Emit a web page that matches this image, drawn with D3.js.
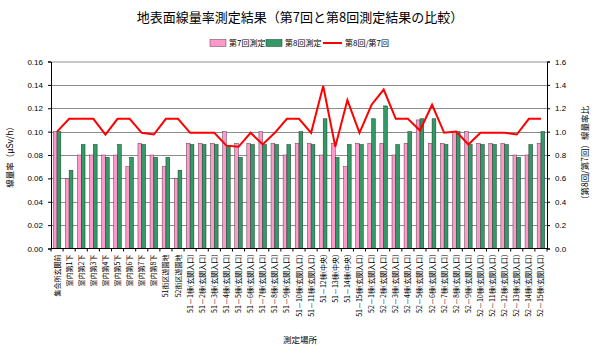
<!DOCTYPE html>
<html>
<head>
<meta charset="utf-8">
<script src="https://cdn.jsdelivr.net/npm/d3@7"></script>
<style>
  body { margin: 0; background: #fff; }
  text { font-family: "Noto Sans CJK JP", "Noto Sans", sans-serif; }
</style>
</head>
<body>
<div id="chart"></div>
<script>
// categories (measurement locations)
const places = [
    "集会所玄関前", "室内第1下", "室内第2下", "室内第3下", "室内第4下", "室内第5下",
    "室内第6下", "室内第7下", "室内第8下", "51街区遊園地", "52街区遊園地",
    "51－1棟(玄関入口)", "51－2棟(玄関入口)", "51－3棟(玄関入口)", "51－4棟(玄関入口)",
    "51－5棟(玄関入口)", "51－6棟(玄関入口)", "51－7棟(玄関入口)", "51－8棟(玄関入口)",
    "51－9棟(玄関入口)", "51－10棟(玄関入口)", "51－11棟(玄関入口)", "51－12棟(中央)",
    "51－13棟(中央)", "51－14棟(中央)", "51－15棟(玄関入口)",
    "52－1棟(玄関入口)", "52－2棟(玄関入口)", "52－3棟(玄関入口)", "52－4棟(玄関入口)",
    "52－5棟(玄関入口)", "52－6棟(玄関入口)", "52－7棟(玄関入口)", "52－8棟(玄関入口)",
    "52－9棟(玄関入口)", "52－10棟(玄関入口)", "52－11棟(玄関入口)", "52－12棟(玄関入口)",
    "52－13棟(玄関入口)", "52－14棟(玄関入口)", "52－15棟(玄関入口)"
];

// 第7回測定 (μSv/h)
const round7 = [
    0.10, 0.06, 0.08, 0.08, 0.08, 0.08, 0.07, 0.09, 0.08, 0.07, 0.06,
    0.09, 0.09, 0.09, 0.10, 0.09, 0.09, 0.10, 0.09, 0.08, 0.09, 0.09, 0.08,
    0.09, 0.07, 0.09, 0.09, 0.09, 0.08, 0.09, 0.11, 0.09, 0.09, 0.10,
    0.10, 0.09, 0.09, 0.09, 0.08, 0.08, 0.09
];

// 第8回測定 (μSv/h)
const round8 = [
    0.10, 0.067, 0.089, 0.089, 0.078, 0.089, 0.078, 0.089, 0.078, 0.078, 0.067,
    0.089, 0.089, 0.089, 0.088, 0.078, 0.089, 0.089, 0.089, 0.089, 0.10, 0.089, 0.111,
    0.078, 0.089, 0.089, 0.111, 0.122, 0.089, 0.10, 0.111, 0.111, 0.089, 0.10,
    0.089, 0.089, 0.089, 0.089, 0.078, 0.089, 0.10
];

// 第8回/第7回 ratio
const ratio = [
    1.00, 1.11, 1.11, 1.11, 0.975, 1.11, 1.11, 0.99, 0.975, 1.11, 1.11,
    0.99, 0.99, 0.99, 0.88, 0.87, 0.99, 0.89, 0.99, 1.11, 1.11, 0.99, 1.39,
    0.87, 1.27, 0.99, 1.23, 1.36, 1.11, 1.11, 1.01, 1.23, 0.99, 1.00,
    0.89, 0.99, 0.99, 0.99, 0.975, 1.11, 1.11
];

const leftTicks = [0, 0.02, 0.04, 0.06, 0.08, 0.10, 0.12, 0.14, 0.16];
const rightTicks = [0, 0.2, 0.4, 0.6, 0.8, 1.0, 1.2, 1.4, 1.6];

const width = 600;
const height = 353;
const plot = { left: 51, right: 547, top: 61.5, bottom: 248.5 };

const pinkFill = "#FF99CC";
const greenFill = "#339966";
const lineRed = "#FF0000";

const svg = d3.select("#chart")
    .append("svg")
    .attr("width", width)
    .attr("height", height);

const xScale = d3.scaleBand()
    .domain(d3.range(places.length))
    .range([plot.left, plot.right])
    .padding(0);

const inner = d3.scaleBand()
    .domain(["r7", "r8"])
    .range([0, xScale.bandwidth()])
    .paddingInner(0)
    .paddingOuter(0.6);

const yLeft = d3.scaleLinear().domain([0, 0.16]).range([plot.bottom, plot.top]);
const yRight = d3.scaleLinear().domain([0, 1.6]).range([plot.bottom, plot.top]);

// gridlines
svg.append("g")
    .selectAll("line")
    .data(leftTicks.slice(1))
    .join("line")
    .attr("x1", plot.left)
    .attr("x2", plot.right)
    .attr("y1", d => Math.round(yLeft(d)) + 0.5)
    .attr("y2", d => Math.round(yLeft(d)) + 0.5)
    .attr("stroke", (d, i) => i === leftTicks.length - 2 ? "#c8c8c8" : "#8c8c8c")
    .attr("stroke-width", 1);

// bars
const groups = svg.append("g")
    .selectAll("g")
    .data(places.map((p, i) => i))
    .join("g")
    .attr("transform", i => `translate(${xScale(i)},0)`);

groups.append("rect")
    .attr("x", inner("r7"))
    .attr("width", inner.bandwidth())
    .attr("y", i => yLeft(round7[i]))
    .attr("height", i => yLeft(0) - yLeft(round7[i]))
    .attr("fill", pinkFill)
    .attr("stroke", "#5a3a4a")
    .attr("stroke-width", 0.5);

groups.append("rect")
    .attr("x", inner("r8"))
    .attr("width", inner.bandwidth())
    .attr("y", i => yLeft(round8[i]))
    .attr("height", i => yLeft(0) - yLeft(round8[i]))
    .attr("fill", greenFill)
    .attr("stroke", "#1a3a2a")
    .attr("stroke-width", 0.5);

// ratio line
svg.append("path")
    .datum(ratio)
    .attr("fill", "none")
    .attr("stroke", lineRed)
    .attr("stroke-width", 2)
    .attr("d", d3.line()
        .x((d, i) => xScale(i) + xScale.bandwidth() / 2)
        .y(d => yRight(d)));

// left axis
svg.append("g")
    .attr("transform", `translate(${plot.left},0)`)
    .call(d3.axisLeft(yLeft).tickValues(leftTicks).tickFormat(d3.format(".2f")).tickSize(3).tickPadding(5))
    .call(g => g.select(".domain").attr("stroke", "#000"))
    .selectAll("text")
    .style("font-size", "8px")
    .style("font-family", "Arial, 'Liberation Sans', sans-serif")
    .attr("fill", "#000");

// right axis
svg.append("g")
    .attr("transform", `translate(${plot.right},0)`)
    .call(d3.axisRight(yRight).tickValues(rightTicks).tickFormat(d3.format(".1f")).tickSize(3).tickPadding(5))
    .call(g => g.select(".domain").attr("stroke", "#000"))
    .selectAll("text")
    .style("font-size", "8px")
    .style("font-family", "Arial, 'Liberation Sans', sans-serif")
    .attr("fill", "#000");

// top border
svg.append("line")
    .attr("x1", plot.left)
    .attr("x2", plot.right)
    .attr("y1", plot.top)
    .attr("y2", plot.top)
    .attr("stroke", "#c8c8c8");

// bottom axis
const xAxis = svg.append("g")
    .attr("transform", `translate(0,${plot.bottom})`);

xAxis.append("line")
    .attr("x1", plot.left)
    .attr("x2", plot.right)
    .attr("stroke", "#000");

xAxis.selectAll(".tick")
    .data(d3.range(places.length + 1))
    .join("line")
    .attr("class", "tick")
    .attr("x1", i => i < places.length ? xScale(i) : plot.right)
    .attr("x2", i => i < places.length ? xScale(i) : plot.right)
    .attr("y1", 0)
    .attr("y2", 3)
    .attr("stroke", "#000");

xAxis.selectAll(".label")
    .data(places)
    .join("text")
    .attr("class", "label")
    .attr("transform", (d, i) => `translate(${xScale(i) + xScale.bandwidth() / 2 + 2.5},6) rotate(-90)`)
    .attr("text-anchor", "end")
    .style("font-size", "7px")
    .attr("fill", "#000")
    .text(d => d);

// title
svg.append("text")
    .attr("x", 300)
    .attr("y", 22)
    .attr("text-anchor", "middle")
    .style("font-size", "13px")
    .attr("fill", "#000")
    .text("地表面線量率測定結果（第7回と第8回測定結果の比較）");

// axis titles
svg.append("text")
    .attr("transform", `translate(13,${(plot.top + plot.bottom) / 2}) rotate(-90)`)
    .attr("text-anchor", "middle")
    .style("font-size", "8.5px")
    .attr("fill", "#000")
    .text("線量率（μSv/h）");

svg.append("text")
    .attr("transform", `translate(588,${(plot.top + plot.bottom) / 2}) rotate(-90)`)
    .attr("text-anchor", "middle")
    .style("font-size", "8.5px")
    .attr("fill", "#000")
    .text("（第8回/第7回）線量率比");

svg.append("text")
    .attr("x", 300)
    .attr("y", 343)
    .attr("text-anchor", "middle")
    .style("font-size", "8.5px")
    .attr("fill", "#000")
    .text("測定場所");

// legend
const legend = svg.append("g").attr("transform", "translate(210,43)");

legend.append("rect")
    .attr("x", 0).attr("y", -3.5).attr("width", 16).attr("height", 7)
    .attr("fill", pinkFill).attr("stroke", "#5a3a4a").attr("stroke-width", 0.5);
legend.append("text")
    .attr("x", 19).attr("y", 3)
    .style("font-size", "8px").text("第7回測定");

legend.append("rect")
    .attr("x", 56).attr("y", -3.5).attr("width", 16).attr("height", 7)
    .attr("fill", greenFill).attr("stroke", "#1a3a2a").attr("stroke-width", 0.5);
legend.append("text")
    .attr("x", 75).attr("y", 3)
    .style("font-size", "8px").text("第8回測定");

legend.append("line")
    .attr("x1", 113).attr("x2", 132).attr("y1", 0).attr("y2", 0)
    .attr("stroke", lineRed).attr("stroke-width", 2);
legend.append("text")
    .attr("x", 135).attr("y", 3)
    .style("font-size", "8px").text("第8回/第7回");
</script>
</body>
</html>
